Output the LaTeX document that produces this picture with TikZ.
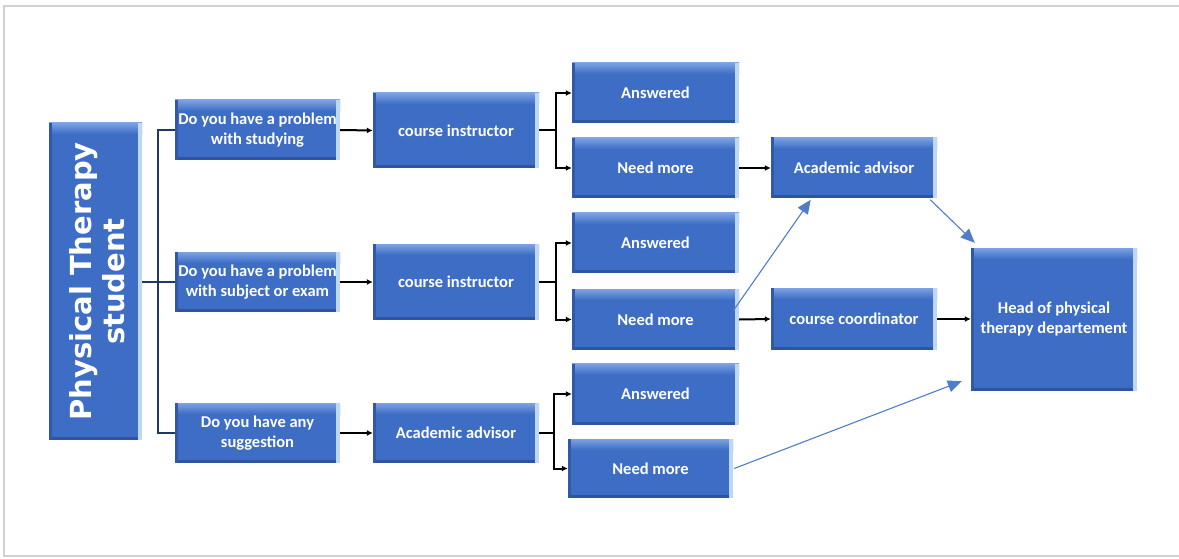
\documentclass[tikz,border=0pt]{standalone}
\usepackage{fontspec}
\newfontfamily\boxfont{Carlito}
\newfontfamily\stufont{DejaVu Sans}
\usetikzlibrary{calc,arrows.meta}
\definecolor{boxblue}{RGB}{61,109,196}
\definecolor{boxlight}{RGB}{125,162,228}
\definecolor{boxpale}{RGB}{190,215,242}
\definecolor{boxdark}{RGB}{46,84,160}
\definecolor{navy}{RGB}{31,56,100}
\definecolor{linkblue}{RGB}{80,125,200}
\tikzset{
  box/.style={fill=boxblue, text=white, font=\boxfont\bfseries\fontsize{16.5}{20}\selectfont,
    align=center, inner sep=1pt,
    path picture={
      \coordinate (pnw) at (path picture bounding box.north west);
      \coordinate (pse) at (path picture bounding box.south east);
      \fill[top color=boxlight, bottom color=boxblue] (pnw) rectangle ($(pse|-pnw)+(0,11)$);
      \fill[boxdark] ($(pnw|-pse)+(0,-3)$) rectangle (pse);
      \fill[boxdark!80!boxblue] (pnw) rectangle ($(pnw|-pse)+(3,0)$);
      \fill[boxpale] ($(pse|-pnw)+(-4,0)$) rectangle (pse);
    }},
  bar/.style={navy, line width=1.1pt},
  blk/.style={black, line width=2pt},
  blkarr/.style={black, line width=2pt, -{Latex[length=6pt,width=6pt]}},
  bluearr/.style={linkblue, line width=1.1pt, -{Triangle[length=14pt,width=12pt]}},
}
\begin{document}
\begin{tikzpicture}[x=1pt,y=-1pt]
\useasboundingbox (0,0) rectangle (1179,559);
\draw[black!18, line width=2pt] (4,6) rectangle (1190,556);
% nodes
\node[box, minimum width=93, minimum height=317] (stu) at (95.5,281.5) {};
\node[rotate=90, text=white, font=\stufont\bfseries\fontsize{29}{33}\selectfont, align=center] (stulabel) at ($(stu.center)+(2,0)$) {Physical Therapy\\student};
\node[box, minimum width=165, minimum height=60] (q1) at (257.5,130) {Do you have a problem\\with studying};
\node[box, minimum width=165, minimum height=60] (q2) at (257.5,282) {Do you have a problem\\with subject or exam};
\node[box, minimum width=165, minimum height=60] (q3) at (257.5,433) {Do you have any\\suggestion};
\node[box, minimum width=166, minimum height=75] (ci1) at (456,130.5) {course instructor};
\node[box, minimum width=166, minimum height=76] (ci2) at (456,282) {course instructor};
\node[box, minimum width=166, minimum height=60] (aa3) at (456,433) {Academic advisor};
\node[box, minimum width=167, minimum height=60] (ans1) at (655.5,93) {Answered};
\node[box, minimum width=167, minimum height=60] (nm1) at (655.5,168) {Need more};
\node[box, minimum width=167, minimum height=60] (ans2) at (655.5,243) {Answered};
\node[box, minimum width=167, minimum height=61] (nm2) at (655.5,319.5) {Need more};
\node[box, minimum width=167, minimum height=61] (ans3) at (655.5,394) {Answered};
\node[box, minimum width=165, minimum height=59] (nm3) at (650.5,468.5) {Need more};
\node[box, minimum width=166, minimum height=61] (aa) at (854,168) {Academic advisor};
\node[box, minimum width=166, minimum height=62] (cc) at (854,319) {course coordinator};
\node[box, minimum width=166, minimum height=143] (head) at (1054,319.5) {Head of physical\\therapy departement};
% bracket from student
\coordinate (bt) at (158,130);
\coordinate (bb) at (158,433);
\draw[bar] (stu.east|-q2.west) -- (q2.west);
\draw[bar] (q1.west) -- (bt) -- (bb) -- (q3.west);
% question -> first handler
\draw[blkarr] (q1.east) -- (ci1.west);
\draw[blkarr] (q2.east) -- (ci2.west);
\draw[blkarr] (q3.east) -- (aa3.west);
% forks
\coordinate (f1) at (556,130.5);
\draw[blk] (ci1.east) -- (f1);
\draw[blk] (f1|-ans1.west) -- (f1|-nm1.west);
\draw[blkarr] ($(f1|-ans1.west)+(-1,0)$) -- (ans1.west);
\draw[blkarr] ($(f1|-nm1.west)+(-1,0)$) -- (nm1.west);
\coordinate (f2) at (556,282);
\draw[blk] (ci2.east) -- (f2);
\draw[blk] (f2|-ans2.west) -- (f2|-nm2.west);
\draw[blkarr] ($(f2|-ans2.west)+(-1,0)$) -- (ans2.west);
\draw[blkarr] ($(f2|-nm2.west)+(-1,0)$) -- (nm2.west);
\coordinate (f3) at (554,433);
\draw[blk] (aa3.east) -- (f3);
\draw[blk] (f3|-ans3.west) -- (f3|-nm3.west);
\draw[blkarr] ($(f3|-ans3.west)+(-1,0)$) -- (ans3.west);
\draw[blkarr] ($(f3|-nm3.west)+(-1,0)$) -- (nm3.west);
% onward
\draw[blkarr] (nm1.east) -- (aa.west);
\draw[blkarr] (nm2.east) -- (cc.west);
\draw[blkarr] (cc.east) -- (head.west|-cc.east);
\draw[bluearr] ($(nm2.north east)+(-6,22)$) -- ($(aa.south west)+(40,1)$);
\draw[bluearr] ($(aa.south east)+(-7,1)$) -- ($(head.north west)+(4,-5)$);
\draw[bluearr] ($(nm3.east)+(1,0)$) -- ($(head.south west)+(-9,-10)$);
\end{tikzpicture}
\end{document}
